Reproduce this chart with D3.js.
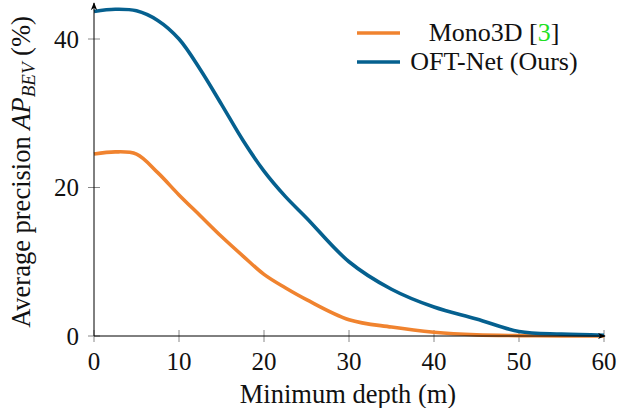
<!DOCTYPE html>
<html>
<head>
<meta charset="utf-8">
<script src="https://cdn.jsdelivr.net/npm/d3@7"></script>
<style>
  body { margin: 0; background: #fff; }
</style>
</head>
<body>
<div id="chart"></div>
<script>
const depth = [0, 2.5, 5, 7.5, 10, 12.5, 15, 17.5, 20, 22.5, 25, 30, 35, 40, 45, 50, 55, 60];
const mono3d = [24.5, 24.8, 24.5, 22.0, 19.0, 16.2, 13.4, 10.8, 8.3, 6.5, 4.9, 2.2, 1.2, 0.5, 0.15, 0.05, 0.0, 0.0];
const oftNet = [43.7, 44.0, 43.8, 42.5, 40.0, 35.9, 31.2, 26.4, 22.2, 18.8, 15.9, 10.0, 6.3, 3.9, 2.3, 0.6, 0.25, 0.1];
const xTicks = [0, 10, 20, 30, 40, 50, 60];
const yTicks = [0, 20, 40];

const font = "'Liberation Serif', 'Times New Roman', Times, serif";
const svgWidth = 626, svgHeight = 408;
const svg = d3.select("#chart").append("svg")
    .attr("width", svgWidth).attr("height", svgHeight)
    .attr("font-family", font);

const margin = {left: 94, right: 22};

const x = d3.scaleLinear().domain([0, 60]).range([margin.left, svgWidth - margin.right]);
const y = d3.scaleLinear().domain([0, 20]).range([336, 187.5]);

// arrow head
svg.append("defs").append("marker")
    .attr("id", "arrow")
    .attr("viewBox", "0 0 10 10")
    .attr("refX", 9).attr("refY", 5)
    .attr("markerWidth", 8).attr("markerHeight", 8)
    .attr("orient", "auto")
  .append("path")
    .attr("d", "M0,1 L10,5 L0,9 L3,5 Z")
    .attr("fill", "#000");

// ticks
svg.append("g").selectAll("line").data(xTicks).join("line")
    .attr("x1", d => x(d)).attr("x2", d => x(d))
    .attr("y1", 330).attr("y2", 342)
    .attr("stroke", "#888").attr("stroke-width", 1);
svg.append("g").selectAll("line").data(yTicks).join("line")
    .attr("x1", 88).attr("x2", 100)
    .attr("y1", d => y(d)).attr("y2", d => y(d))
    .attr("stroke", "#888").attr("stroke-width", 1);

// tick labels
svg.append("g").selectAll("text").data(xTicks).join("text")
    .attr("x", d => x(d)).attr("y", 370)
    .attr("text-anchor", "middle")
    .attr("font-size", 25)
    .attr("fill", "#111")
    .text(d => d);
svg.append("g").selectAll("text").data(yTicks).join("text")
    .attr("x", 79).attr("y", d => y(d) + 8.5)
    .attr("text-anchor", "end")
    .attr("font-size", 25)
    .attr("fill", "#111")
    .text(d => d);

// lines
const line = d3.line()
    .x((d, i) => x(depth[i]))
    .y(d => y(d))
    .curve(d3.curveCatmullRom.alpha(0.5));

svg.append("path")
    .datum(mono3d)
    .attr("fill", "none")
    .attr("stroke", "#f0832f")
    .attr("stroke-width", 3.6)
    .attr("d", line);

svg.append("path")
    .datum(oftNet)
    .attr("fill", "none")
    .attr("stroke", "#05608f")
    .attr("stroke-width", 3.6)
    .attr("d", line);

// axes with arrows
svg.append("line")
    .attr("x1", x(0)).attr("x2", x(60) + 1)
    .attr("y1", y(0)).attr("y2", y(0))
    .attr("stroke", "#000").attr("stroke-width", 1)
    .attr("marker-end", "url(#arrow)");
svg.append("line")
    .attr("x1", x(0)).attr("x2", x(0))
    .attr("y1", y(0)).attr("y2", 3)
    .attr("stroke", "#000").attr("stroke-width", 1)
    .attr("marker-end", "url(#arrow)");

// axis titles
svg.append("text")
    .attr("x", 348).attr("y", 403)
    .attr("text-anchor", "middle")
    .attr("font-size", 26.5)
    .attr("fill", "#111")
    .text("Minimum depth (m)");

const yTitle = svg.append("text")
    .attr("transform", "translate(30,172) rotate(-90)")
    .attr("text-anchor", "middle")
    .attr("font-size", 26.5)
    .attr("fill", "#111");
yTitle.append("tspan").text("Average precision ");
yTitle.append("tspan").attr("font-style", "italic").text("AP");
yTitle.append("tspan").attr("font-style", "italic").attr("font-size", 19).attr("dy", 5).text("BEV");
yTitle.append("tspan").attr("dy", -5).text(" (%)");

// legend
const legend = [
  {name: "Mono3D [", ref: "3", tail: "]", color: "#f0832f", y: 33},
  {name: "OFT-Net (Ours)", ref: "", tail: "", color: "#05608f", y: 62}
];
const lg = svg.append("g");
lg.selectAll("line").data(legend).join("line")
    .attr("x1", 357).attr("x2", 400)
    .attr("y1", d => d.y).attr("y2", d => d.y)
    .attr("stroke", d => d.color).attr("stroke-width", 3.6);
const lt = lg.selectAll("text").data(legend).join("text")
    .attr("x", 494).attr("y", d => d.y + 8)
    .attr("text-anchor", "middle")
    .attr("font-size", 26)
    .attr("fill", "#111");
lt.append("tspan").text(d => d.name);
lt.append("tspan").attr("fill", "#22e022").text(d => d.ref);
lt.append("tspan").text(d => d.tail);
</script>
</body>
</html>
